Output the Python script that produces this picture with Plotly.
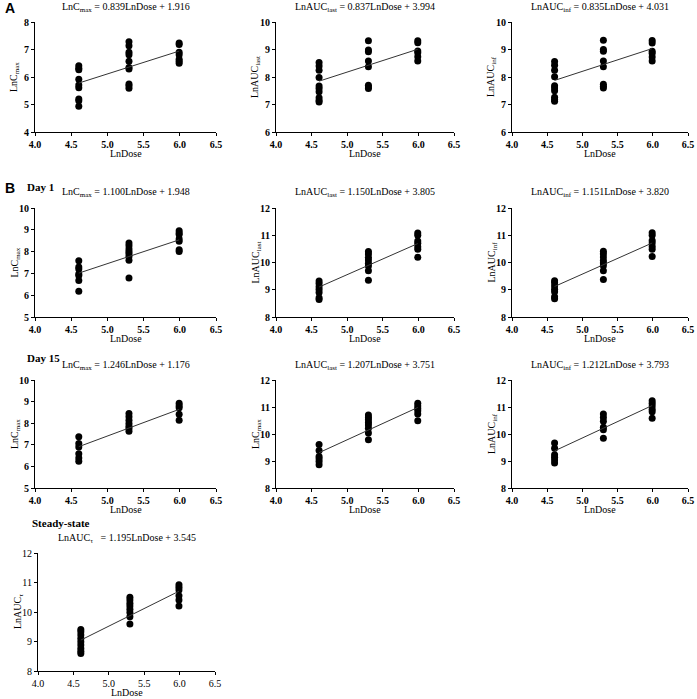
import plotly.graph_objects as go

W, H = 697, 699
FONT = "Liberation Serif"

# x positions: ln(100), ln(200), ln(400)
dose_levels = [4.605, 5.298, 5.991]

# A: LnCmax
a_cmax_lo = [6.41, 6.32, 6.26, 5.92, 5.71, 5.61, 5.20, 5.14, 4.94]
a_cmax_mid = [7.28, 7.14, 6.90, 6.81, 6.57, 6.35, 6.29, 5.75, 5.68, 5.59]
a_cmax_hi = [7.24, 7.18, 6.90, 6.81, 6.65, 6.57, 6.50]
# A: LnAUClast
a_last_lo = [8.53, 8.40, 8.25, 7.98, 7.67, 7.58, 7.46, 7.25, 7.15, 7.09]
a_last_mid = [9.32, 8.98, 8.92, 8.58, 8.37, 7.70, 7.64, 7.58]
a_last_hi = [9.32, 9.25, 8.95, 8.88, 8.74, 8.58]
# A: LnAUCinf
a_inf_lo = [8.56, 8.43, 8.25, 8.01, 7.68, 7.60, 7.50, 7.26, 7.18, 7.12]
a_inf_mid = [9.34, 9.00, 8.94, 8.58, 8.37, 7.74, 7.66, 7.60]
a_inf_hi = [9.33, 9.24, 8.94, 8.86, 8.73, 8.58]
# B Day 1
d1_cmax_lo = [7.58, 7.29, 7.20, 6.97, 6.90, 6.67, 6.18]
d1_cmax_mid = [8.39, 8.27, 8.12, 8.01, 7.91, 7.78, 7.60, 6.79]
d1_cmax_hi = [8.96, 8.85, 8.78, 8.58, 8.47, 8.09, 8.01]
d1_last_lo = [9.32, 9.23, 9.11, 9.01, 8.90, 8.71, 8.64]
d1_last_mid = [10.40, 10.31, 10.19, 10.09, 9.97, 9.87, 9.70, 9.35]
d1_last_hi = [11.08, 11.00, 10.79, 10.71, 10.58, 10.49, 10.19]
d1_inf_lo = [9.33, 9.26, 9.14, 9.02, 8.93, 8.74, 8.67]
d1_inf_mid = [10.41, 10.32, 10.20, 10.07, 9.98, 9.88, 9.70, 9.38]
d1_inf_hi = [11.09, 11.00, 10.81, 10.72, 10.59, 10.49, 10.22]
# B Day 15
d15_cmax_lo = [7.37, 7.06, 6.90, 6.59, 6.39, 6.24]
d15_cmax_mid = [8.45, 8.30, 8.14, 7.99, 7.86, 7.76, 7.63]
d15_cmax_hi = [8.92, 8.81, 8.72, 8.41, 8.14]
d15_last_lo = [9.61, 9.39, 9.17, 9.08, 8.98, 8.86]
d15_last_mid = [10.70, 10.61, 10.53, 10.43, 10.33, 10.21, 10.04, 9.79]
d15_last_hi = [11.14, 11.04, 10.94, 10.86, 10.74, 10.49]
d15_inf_lo = [9.67, 9.47, 9.23, 9.14, 9.04, 8.93]
d15_inf_mid = [10.74, 10.61, 10.47, 10.25, 10.16, 9.84]
d15_inf_hi = [11.23, 11.14, 11.04, 10.92, 10.82, 10.58]
# Steady-state AUCtau
ss_tau_lo = [9.41, 9.33, 9.22, 9.10, 8.99, 8.88, 8.76, 8.67, 8.59]
ss_tau_mid = [10.50, 10.41, 10.30, 10.20, 10.09, 9.98, 9.84, 9.59]
ss_tau_hi = [10.92, 10.84, 10.75, 10.55, 10.41, 10.20]

slopes = [0.839, 0.837, 0.835, 1.100, 1.150, 1.151, 1.246, 1.207, 1.212, 1.195]
intercepts = [1.916, 3.994, 4.031, 1.948, 3.805, 3.820, 1.176, 3.751, 3.793, 3.545]

titles = [
    "LnC<sub>max</sub> = 0.839LnDose + 1.916",
    "LnAUC<sub>last</sub> = 0.837LnDose + 3.994",
    "LnAUC<sub>inf</sub> = 0.835LnDose + 4.031",
    "LnC<sub>max</sub> = 1.100LnDose + 1.948",
    "LnAUC<sub>last</sub> = 1.150LnDose + 3.805",
    "LnAUC<sub>inf</sub> = 1.151LnDose + 3.820",
    "LnC<sub>max</sub> = 1.246LnDose + 1.176",
    "LnAUC<sub>last</sub> = 1.207LnDose + 3.751",
    "LnAUC<sub>inf</sub> = 1.212LnDose + 3.793",
    "LnAUC<sub>τ</sub>   = 1.195LnDose + 3.545",
]
ytitles = ["LnC<sub>max</sub>", "LnAUC<sub>last</sub>", "LnAUC<sub>inf</sub>",
           "LnC<sub>max</sub>", "LnAUC<sub>last</sub>", "LnAUC<sub>inf</sub>",
           "LnC<sub>max</sub>", "LnC<sub>max</sub>", "LnAUC<sub>inf</sub>",
           "LnAUC<sub>τ</sub>"]
yranges = [(4, 8), (6, 10), (6, 10), (5, 10), (8, 12), (8, 12),
           (5, 10), (8, 12), (8, 12), (8, 12)]

groups = [
    (a_cmax_lo, a_cmax_mid, a_cmax_hi),
    (a_last_lo, a_last_mid, a_last_hi),
    (a_inf_lo, a_inf_mid, a_inf_hi),
    (d1_cmax_lo, d1_cmax_mid, d1_cmax_hi),
    (d1_last_lo, d1_last_mid, d1_last_hi),
    (d1_inf_lo, d1_inf_mid, d1_inf_hi),
    (d15_cmax_lo, d15_cmax_mid, d15_cmax_hi),
    (d15_last_lo, d15_last_mid, d15_last_hi),
    (d15_inf_lo, d15_inf_mid, d15_inf_hi),
    (ss_tau_lo, ss_tau_mid, ss_tau_hi),
]

# pixel boxes of each plot area: (left, right, top, bottom)
cols = [(35, 216), (276, 454), (512, 688)]
rows = [(22, 132), (208, 317), (380, 488)]
boxes = [(c[0], c[1], r[0], r[1]) for r in rows for c in cols]
boxes.append((38, 215, 553, 671))


def px_x(x):
    return x / W


def px_y(y):
    return 1 - y / H


def label(text, x, y, size=10, xanchor="center", textangle=0, family=FONT):
    return dict(text=text, x=px_x(x), y=px_y(y), xref="paper", yref="paper",
                showarrow=False, xanchor=xanchor, yanchor="middle", textangle=textangle,
                font=dict(family=family, size=size, color="black"))


fig = go.Figure()
annotations = []

for i, (grp, box) in enumerate(zip(groups, boxes)):
    n = "" if i == 0 else str(i + 1)
    xs, ys = [], []
    for lvl, vals in zip(dose_levels, grp):
        xs += [lvl] * len(vals)
        ys += vals
    fig.add_trace(go.Scatter(
        x=xs, y=ys, mode="markers", xaxis="x" + n, yaxis="y" + n,
        marker=dict(color="black", size=7), showlegend=False, cliponaxis=False,
    ))
    lx = [dose_levels[0], dose_levels[-1]]
    fig.add_trace(go.Scatter(
        x=lx, y=[slopes[i] * v + intercepts[i] for v in lx], mode="lines",
        xaxis="x" + n, yaxis="y" + n, line=dict(color="#333", width=1),
        showlegend=False,
    ))
    l, r, t, b = box
    bold = i < 9
    tickfont = dict(family=FONT, size=10, color="black", weight="bold" if bold else "normal")
    axis = dict(showline=True, linecolor="black", linewidth=1, ticks="outside",
                ticklen=3, tickcolor="black", showgrid=False, zeroline=False,
                tickfont=tickfont, automargin=False)
    fig.layout["xaxis" + n] = dict(
        axis, domain=[px_x(l), px_x(r)], range=[4.0, 6.5], dtick=0.5,
        tickformat=".1f", anchor="y" + n,
    )
    fig.layout["yaxis" + n] = dict(
        axis, domain=[px_y(b), px_y(t)], range=list(yranges[i]), dtick=1,
        anchor="x" + n,
    )
    annotations.append(label(titles[i], (l + r) / 2, t - 15))
    annotations.append(label("LnDose", (l + r) / 2, b + 21))
    annotations.append(label(ytitles[i], l - 20, (t + b) / 2, textangle=-90))

for txt, y in [("A", 8), ("B", 188)]:
    annotations.append(label("<b>%s</b>" % txt, 3, y, size=14, xanchor="left",
                             family="Liberation Sans"))
for txt, x, y in [("Day 1", 25, 187), ("Day 15", 25, 358), ("Steady-state", 30, 523)]:
    annotations.append(label("<b>%s</b>" % txt, x, y, size=11, xanchor="left"))

fig.update_layout(
    width=W, height=H, margin=dict(l=0, r=0, t=0, b=0, autoexpand=False),
    paper_bgcolor="white", plot_bgcolor="white",
    annotations=annotations,
)
# drop the default 8px page margin so the figure fills the window exactly
fig.write_html("out.html", config={"displayModeBar": False},
               post_script="document.body.style.margin = '0';")
